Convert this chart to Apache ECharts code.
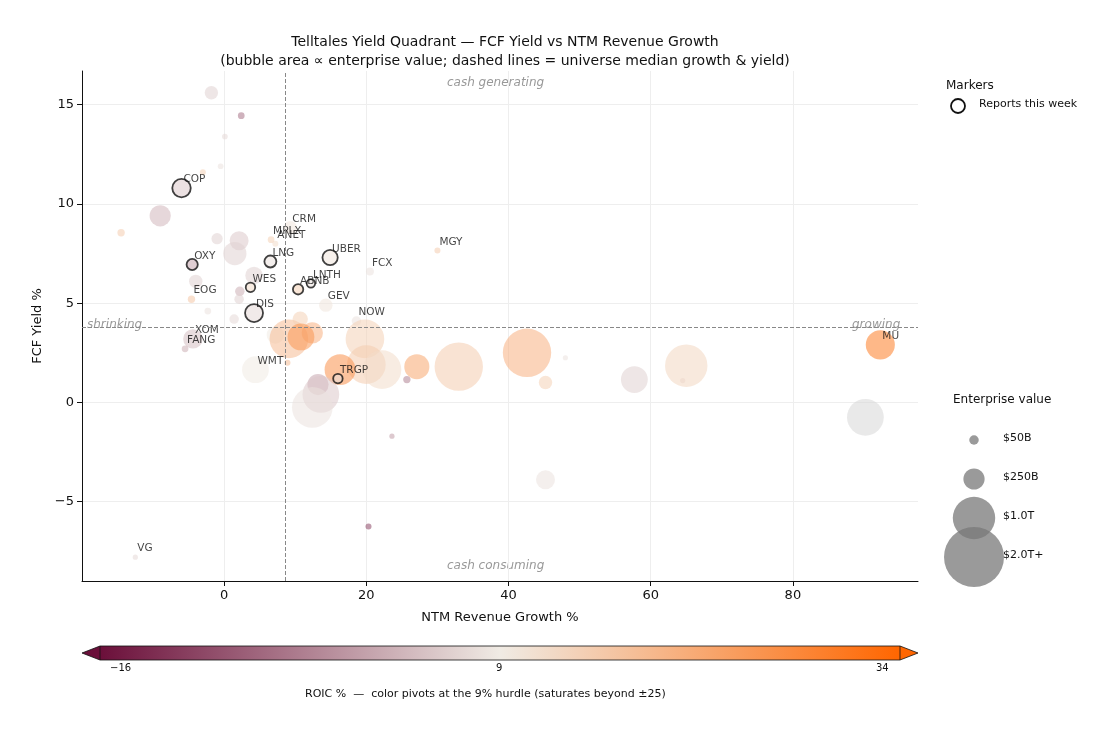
<!DOCTYPE html>
<html>
<head>
<meta charset="utf-8">
<script src="https://cdn.jsdelivr.net/npm/echarts@6/dist/echarts.min.js"></script>
<style>html,body{margin:0;background:#fff}#chart{width:1100px;height:734px}</style>
</head>
<body>
<div id="chart"></div>
<script>
var chart = echarts.init(document.getElementById('chart'));
// [growth %, fcf yield %, EV $B, ROIC %, ticker, reports this week]
var rows = [
    [-1.8, 15.6, 100, 6, '', 0],
    [2.4, 14.45, 25, -5, '', 0],
    [0.1, 13.4, 18, 7, '', 0],
    [-0.5, 11.9, 18, 8, '', 0],
    [-3, 11.6, 20, 14, '', 0],
    [-6, 10.8, 190, 5, 'COP', 1],
    [-9, 9.4, 250, 3, '', 0],
    [-14.5, 8.55, 30, 15, '', 0],
    [-1, 8.25, 70, 6, '', 0],
    [2.1, 8.15, 200, 5, '', 0],
    [1.5, 7.5, 300, 6, '', 0],
    [9.3, 8.8, 100, 10, 'CRM', 0],
    [6.6, 8.2, 25, 14, 'MPLX', 0],
    [7.2, 8.0, 20, 12, 'ANET', 0],
    [6.5, 7.1, 80, 8, 'LNG', 1],
    [14.9, 7.3, 130, 10, 'UBER', 1],
    [30, 7.65, 20, 15, 'MGY', 0],
    [20.5, 6.6, 35, 8, 'FCX', 0],
    [-4.5, 6.95, 70, 1, 'OXY', 1],
    [-4, 6.1, 100, 6, '', 0],
    [4.2, 6.4, 170, 6, '', 0],
    [2.2, 5.6, 50, 2, '', 0],
    [2.1, 5.2, 50, 6, '', 0],
    [3.7, 5.8, 50, 12, 'WES', 1],
    [10.4, 5.7, 60, 14, 'ABNB', 1],
    [12.2, 6.0, 40, 8, 'LNTH', 1],
    [-4.6, 5.2, 30, 16, 'EOG', 0],
    [14.3, 4.9, 100, 10, 'GEV', 0],
    [4.2, 4.5, 180, 7, 'DIS', 1],
    [-2.3, 4.6, 25, 8, '', 0],
    [1.4, 4.2, 50, 7, '', 0],
    [18.6, 4.1, 50, 8, 'NOW', 0],
    [-4.4, 3.2, 210, 4, 'XOM', 0],
    [-5.5, 2.7, 25, 2, 'FANG', 0],
    [7.2, 3.4, 170, 9, '', 0],
    [9.1, 3.2, 830, 18, '', 0],
    [10.7, 4.2, 130, 14, '', 0],
    [12.4, 3.5, 250, 20, '', 0],
    [10.8, 3.3, 400, 25, '', 0],
    [19.8, 3.2, 830, 14, '', 0],
    [20, 1.9, 830, 15, '', 0],
    [22.2, 1.65, 830, 12, '', 0],
    [4.4, 1.65, 400, 9, 'WMT', 0],
    [8.9, 2.0, 20, 18, '', 0],
    [16.3, 1.65, 530, 26, '', 0],
    [13.2, 0.9, 250, 1, '', 0],
    [13.6, 0.4, 750, 5, '', 0],
    [12.4, -0.25, 920, 8, '', 0],
    [16.0, 1.2, 50, 8, 'TRGP', 1],
    [25.7, 1.15, 30, -3, '', 0],
    [27.1, 1.8, 350, 22, '', 0],
    [33, 1.8, 1300, 15, '', 0],
    [42.6, 2.5, 1300, 20, '', 0],
    [45.2, 1.0, 100, 14, '', 0],
    [48, 2.25, 15, 8, '', 0],
    [57.7, 1.15, 400, 6, '', 0],
    [64.5, 1.1, 15, 7, '', 0],
    [65, 1.85, 1000, 13, '', 0],
    [92.3, 2.9, 470, 30, 'MU', 0],
    [90.2, -0.75, 750, null, '', 0],
    [45.2, -3.9, 200, 8, '', 0],
    [23.6, -1.7, 15, 0, '', 0],
    [20.3, -6.25, 20, -10, '', 0],
    [-12.5, -7.8, 15, 7, 'VG', 0]
];
var medX = 8.6, medY = 3.8;
function size(ev) { return 60 * Math.sqrt(ev / 2000); }

// colormap: maroon -> cream (9% hurdle) -> orange
var stops = [[-16, [107, 15, 58]], [9, [240, 235, 228]], [34, [255, 102, 0]]];
function rgb(r) {
    if (r === null) return [215, 215, 215];
    r = Math.max(-16, Math.min(34, r));
    var a = r <= 9 ? stops[0] : stops[1], b = r <= 9 ? stops[1] : stops[2];
    var t = (r - a[0]) / (b[0] - a[0]);
    return a[1].map(function (v, i) { return Math.round(v + (b[1][i] - v) * t); });
}
function roicColor(r, alpha) {
    var c = rgb(r);
    return alpha == null ? 'rgb(' + c.join(',') + ')' : 'rgba(' + c.join(',') + ',' + alpha + ')';
}

var bubbles = rows.map(function (r) {
    return {
        name: r[4], value: [r[0], r[1], r[2], r[3]],
        itemStyle: {
            color: roicColor(r[3], 0.68),
            borderColor: r[5] ? '#111' : 'transparent', borderWidth: r[5] ? 1.8 : 0
        }
    };
});

var cbL = 100, cbR = 900, cbY = 646, cbH = 14;
var option = {
    backgroundColor: '#fff',
    textStyle: { fontFamily: 'DejaVu Sans' },
    title: {
        text: 'Telltales Yield Quadrant — FCF Yield vs NTM Revenue Growth\n(bubble area ∝ enterprise value; dashed lines = universe median growth & yield)',
        left: 500, top: 28, textAlign: 'center',
        textStyle: { fontSize: 14, fontWeight: 'normal', color: '#111', lineHeight: 19 }
    },
    grid: { left: 82, right: 182, top: 71, bottom: 153 },
    xAxis: {
        type: 'value', min: -20, max: 97.6,
        name: 'NTM Revenue Growth %', nameLocation: 'middle', nameGap: 30,
        nameTextStyle: { fontSize: 13, color: '#111' },
        axisLine: { onZero: false, lineStyle: { color: '#111' } },
        axisTick: { show: true, customValues: [0, 20, 40, 60, 80], lineStyle: { color: '#111' } },
        axisLabel: { fontSize: 13, color: '#111', customValues: [0, 20, 40, 60, 80] },
        splitLine: { lineStyle: { color: '#eee' } }
    },
    yAxis: {
        type: 'value', min: -9, max: 16.7,
        name: 'FCF Yield %', nameLocation: 'middle', nameGap: 38,
        nameTextStyle: { fontSize: 13, color: '#111' },
        axisLine: { show: true, onZero: false, lineStyle: { color: '#111' } },
        axisTick: { show: true, customValues: [-5, 0, 5, 10, 15], lineStyle: { color: '#111' } },
        axisLabel: { fontSize: 13, color: '#111', customValues: [-5, 0, 5, 10, 15],
            formatter: function (v) { return v < 0 ? '−' + (-v) : v; } },
        splitLine: { lineStyle: { color: '#eee' } }
    },
    series: [{
        type: 'scatter',
        data: bubbles,
        symbolSize: function (v) { return size(v[2]); },
        label: { show: true, formatter: '{b}', fontSize: 10.5, color: '#111' },
        labelLayout: function (p) {
            return { x: p.rect.x + p.rect.width / 2 + 2, y: p.rect.y + p.rect.height / 2 - 3, align: 'left', verticalAlign: 'bottom' };
        },
        markLine: {
            silent: true, symbol: 'none', label: { show: false },
            lineStyle: { color: '#888', type: 'dashed', width: 1 },
            data: [{ xAxis: medX }, { yAxis: medY }]
        },
        z: 3
    }],
    graphic: [
        { type: 'text', left: 447, top: 77, style: { text: 'cash generating', fill: '#999', font: 'italic 12px DejaVu Sans' } },
        { type: 'text', left: 447, top: 560, style: { text: 'cash consuming', fill: '#999', font: 'italic 12px DejaVu Sans' } },
        { type: 'text', left: 87, top: 319, style: { text: 'shrinking', fill: '#999', font: 'italic 12px DejaVu Sans' } },
        { type: 'text', left: 852, top: 319, style: { text: 'growing', fill: '#999', font: 'italic 12px DejaVu Sans' } },
        // marker legend
        { type: 'text', left: 946, top: 80, style: { text: 'Markers', fill: '#111', font: '12px DejaVu Sans' } },
        { type: 'circle', shape: { cx: 958, cy: 106, r: 7 }, style: { fill: '#fff', stroke: '#111', lineWidth: 1.8 } },
        { type: 'text', left: 979, top: 99, style: { text: 'Reports this week', fill: '#111', font: '11px DejaVu Sans' } },
        // size legend
        { type: 'text', left: 953, top: 394, style: { text: 'Enterprise value', fill: '#111', font: '12px DejaVu Sans' } }
    ].concat([[50, '$50B', 440], [250, '$250B', 479], [1000, '$1.0T', 518], [2000, '$2.0T+', 557]].reduce(function (acc, s) {
        acc.push({ type: 'circle', shape: { cx: 974, cy: s[2], r: size(s[0]) / 2 }, style: { fill: 'rgba(120,120,120,0.75)' } });
        acc.push({ type: 'text', left: 1003, top: s[2] - 7, style: { text: s[1], fill: '#111', font: '11px DejaVu Sans' } });
        return acc;
    }, [])).concat([
        // colorbar
        { type: 'rect', shape: { x: cbL, y: cbY, width: cbR - cbL, height: cbH },
          style: { fill: new echarts.graphic.LinearGradient(0, 0, 1, 0, [
              { offset: 0, color: roicColor(-16) }, { offset: 0.5, color: roicColor(9) }, { offset: 1, color: roicColor(34) }]) } },
        { type: 'polygon', shape: { points: [[cbL, cbY], [82, cbY + cbH / 2], [cbL, cbY + cbH]] }, style: { fill: roicColor(-16), stroke: '#111', lineWidth: 0.8 } },
        { type: 'polygon', shape: { points: [[cbR, cbY], [918, cbY + cbH / 2], [cbR, cbY + cbH]] }, style: { fill: roicColor(34), stroke: '#111', lineWidth: 0.8 } },
        { type: 'polyline', shape: { points: [[cbL, cbY], [cbR, cbY]] }, style: { stroke: '#111', lineWidth: 0.8 } },
        { type: 'polyline', shape: { points: [[cbL, cbY + cbH], [cbR, cbY + cbH]] }, style: { stroke: '#111', lineWidth: 0.8 } },
        { type: 'text', left: 110, top: 663, style: { text: '−16', fill: '#111', font: '10px DejaVu Sans' } },
        { type: 'text', left: 496, top: 663, style: { text: '9', fill: '#111', font: '10px DejaVu Sans' } },
        { type: 'text', left: 876, top: 663, style: { text: '34', fill: '#111', font: '10px DejaVu Sans' } },
        { type: 'text', left: 305, top: 689, style: { text: 'ROIC %  —  color pivots at the 9% hurdle (saturates beyond ±25)', fill: '#111', font: '11px DejaVu Sans' } }
    ])
};
chart.setOption(option);
</script>
</body>
</html>
